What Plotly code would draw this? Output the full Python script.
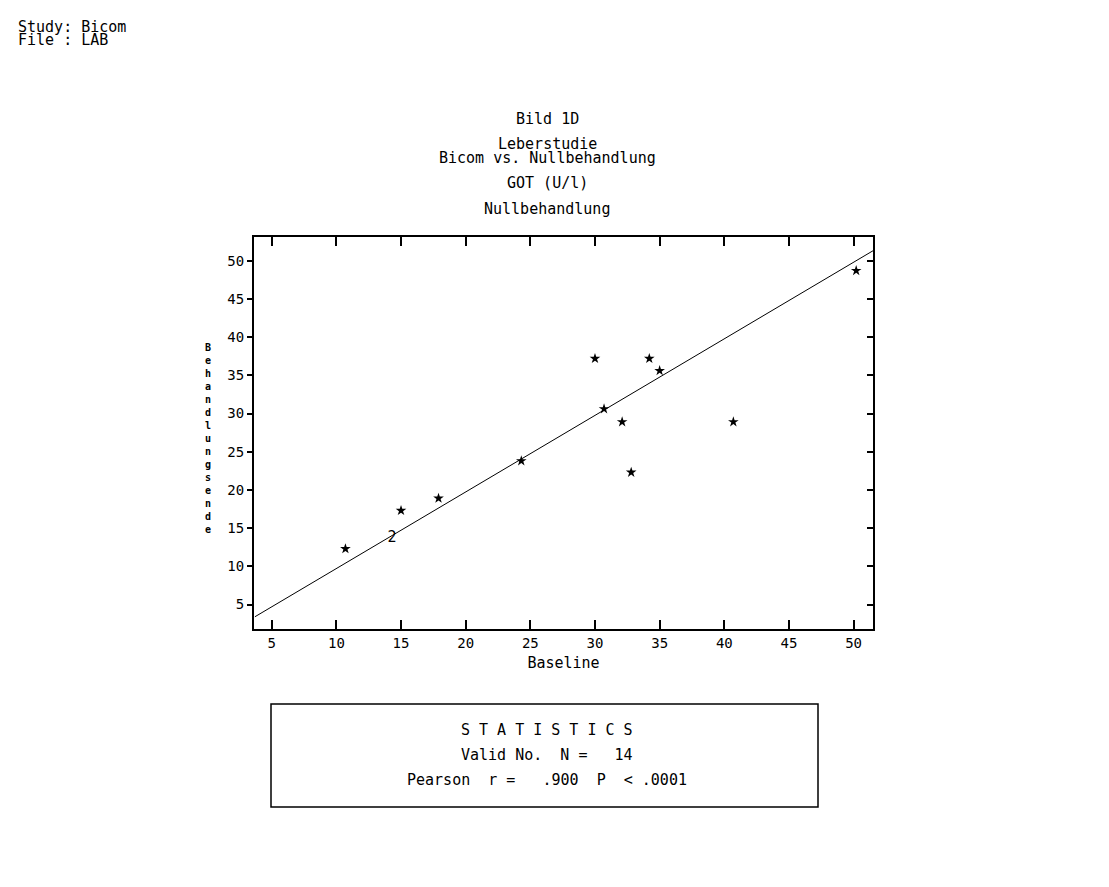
import plotly.graph_objects as go

# ---- data ----
baseline = [10.7, 15.0, 17.9, 24.3, 30.0, 30.7, 32.1, 32.8, 34.2, 35.0, 40.7, 50.2]
endwert = [12.3, 17.3, 18.9, 23.8, 37.2, 30.6, 28.9, 22.3, 37.2, 35.6, 28.9, 48.7]
dup_x = [14.3]          # two coincident observations, drawn as "2"
dup_y = [13.7]
dup_label = ["2"]
fit_x = [3.7, 51.5]      # regression line end points
fit_y = [3.4, 51.3]
x_ticks = [5, 10, 15, 20, 25, 30, 35, 40, 45, 50]
y_ticks = [5, 10, 15, 20, 25, 30, 35, 40, 45, 50]
x_range = [3.63, 51.5]
y_range = [1.8, 53.1]

title_lines = ["Bild 1D", "Leberstudie", "Bicom vs. Nullbehandlung", "GOT (U/l)", "Nullbehandlung"]
header_lines = ["Study: Bicom", "File : LAB"]
stats_lines = ["S T A T I S T I C S", "Valid No.  N =   14", "Pearson  r =   .900  P  < .0001"]
x_title = "Baseline"
y_title = "Behandlungsende"

FONT = "DejaVu Sans Mono"
OFF = 8  # page body margin offset
W, H = 1109, 887
# plot area in page pixels: x 254..873, y 237..629
L = 254 - OFF
R = W - (873 - OFF)
T = 237 - OFF
B = H - (629 - OFF)
pw, ph = W - L - R, H - T - B


def px(x):
    return (x - OFF - L) / pw


def py(y):
    return (H - B - (y - OFF)) / ph


fig = go.Figure()
fig.add_trace(go.Scatter(x=fit_x, y=fit_y, mode="lines",
                         line=dict(color="black", width=1), showlegend=False))
fig.add_trace(go.Scatter(x=baseline, y=endwert, mode="markers",
                         marker=dict(symbol="star", size=8, color="black"),
                         showlegend=False))
fig.add_trace(go.Scatter(x=dup_x, y=dup_y, mode="text", text=dup_label,
                         textfont=dict(family=FONT, size=15, color="black"),
                         showlegend=False))
# invisible trace for right-hand mirrored inward ticks
fig.add_trace(go.Scatter(x=[None], y=[None], yaxis="y2", showlegend=False))

fig.update_layout(
    width=W, height=H,
    margin=dict(l=L, r=R, t=T, b=B),
    paper_bgcolor="white", plot_bgcolor="white",
    font=dict(family=FONT, size=14, color="black"),
    xaxis=dict(range=x_range, tickvals=x_ticks, ticks="inside", ticklen=9, tickwidth=1.5,
               tickcolor="black", showline=True, linecolor="black", linewidth=2,
               mirror="ticks", showgrid=False, zeroline=False,
               tickfont=dict(family=FONT, size=14),
               title=dict(text=x_title, font=dict(family=FONT, size=15), standoff=8)),
    yaxis=dict(range=y_range, tickvals=y_ticks, ticks="outside", ticklen=5, tickwidth=1.5,
               tickcolor="black", showline=True, linecolor="black", linewidth=2,
               mirror=True, showgrid=False, zeroline=False,
               tickfont=dict(family=FONT, size=14)),
    yaxis2=dict(range=y_range, tickvals=y_ticks, overlaying="y", side="right",
                ticks="inside", ticklen=6, tickwidth=1.5, tickcolor="black",
                showticklabels=False, showgrid=False, zeroline=False, showline=False),
)

ann = []
# header at top-left
for i, t in enumerate(header_lines):
    ann.append(dict(text=t, x=px(16), y=py(27 + 13 * i), xref="paper", yref="paper",
                    xanchor="left", yanchor="middle", showarrow=False,
                    font=dict(family=FONT, size=15)))
# titles
title_y = [119, 144, 158, 183, 209]
for t, yy in zip(title_lines, title_y):
    ann.append(dict(text=t, x=px(547), y=py(yy), xref="paper", yref="paper",
                    xanchor="center", yanchor="middle", showarrow=False,
                    font=dict(family=FONT, size=15)))
# vertical stacked y title
ann.append(dict(text="<br>".join("<b>%s</b>" % c for c in y_title), x=px(208), y=py(438.5),
                xref="paper", yref="paper", xanchor="center", yanchor="middle",
                showarrow=False, font=dict(family=FONT, size=10, color="black")))
# statistics box text
stats_y = [730, 755, 780]
for t, yy in zip(stats_lines, stats_y):
    ann.append(dict(text=t, x=px(547), y=py(yy), xref="paper", yref="paper",
                    xanchor="center", yanchor="middle", showarrow=False,
                    font=dict(family=FONT, size=15)))
fig.update_layout(annotations=ann)

fig.add_shape(type="rect", xref="paper", yref="paper",
              x0=px(271), x1=px(818), y0=py(704), y1=py(807),
              line=dict(color="black", width=1.5))

fig.write_html("out.html")
